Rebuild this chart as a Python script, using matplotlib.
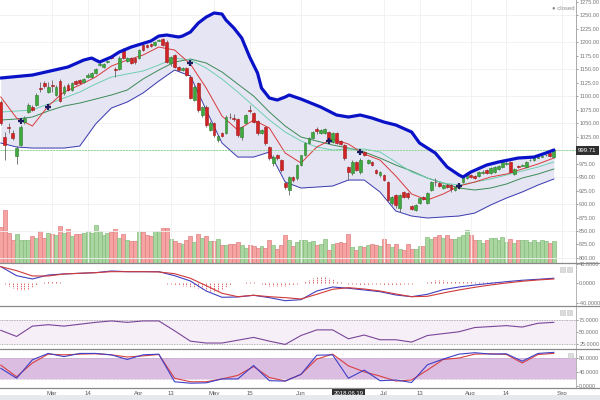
import matplotlib
matplotlib.use('Agg')
import matplotlib.pyplot as plt
import numpy as np
from matplotlib.patches import Rectangle
from matplotlib.lines import Line2D

plt.rcParams['font.family'] = ['Liberation Sans', 'DejaVu Sans']
NARROW = ['Liberation Sans Narrow', 'Liberation Sans', 'DejaVu Sans']

# ---------------- data (daily candles) ----------------
opens = [1089,1024,1043,1032,989,1009,1052,1071,1080,1084,
         1115,1124,1108,1121,1102,1128,1106,1121,1111,1128,
         1130,1126,1135,1135,1143,1158,1154,1163,1174,1150,
         1150,1186,1165,1171,1171,1171,1195,1195,1197,1195,
         1203,1206,1200,1161,1176,1154,1148,1152,1135,1093,
         1124,1065,1080,1037,1050,1019,1032,1032,1062,1060,
         1058,1024,1050,1074,1069,1054,1032,1043,1006,976,
         991,982,939,926,950,948,972,991,1013,1022,
         1039,1032,1032,1033,1015,1032,1016,1009,969,957,
         978,959,996,976,978,963,954,954,941,902,
         917,893,922,920,896,889,902,913,902,926,
         941,939,930,935,935,926,932,941,948,954,
         952,952,958,963,957,959,965,969,975,978,
         956,970,971,969,981,982,986,988,990,995,
         987]
highs = [1093,1034,1050,1037,1008,1046,1063,1087,1084,1106,
         1126,1128,1126,1130,1121,1132,1121,1124,1126,1130,
         1132,1134,1143,1145,1152,1163,1161,1167,1176,1154,
         1174,1189,1173,1173,1173,1187,1197,1197,1199,1202,
         1206,1208,1204,1174,1178,1156,1154,1154,1139,1121,
         1126,1082,1084,1054,1052,1028,1033,1065,1069,1067,
         1059,1045,1067,1083,1071,1056,1039,1045,1008,991,
         993,983,943,952,952,974,991,1015,1024,1035,
         1043,1039,1041,1035,1033,1033,1019,1011,970,982,
         980,985,998,983,980,965,961,956,943,915,
         919,919,924,922,898,900,913,915,922,943,
         948,941,937,937,937,933,937,952,959,956,
         954,961,963,965,969,970,972,980,980,980,
         967,972,974,980,983,989,989,991,993,996,
         1004]
lows = [1046,982,1032,1019,974,1008,1048,1069,1072,1082,
        1108,1115,1106,1108,1100,1089,1102,1110,1110,1121,
        1122,1124,1134,1134,1141,1156,1152,1161,1169,1135,
        1148,1169,1163,1160,1160,1169,1184,1189,1191,1193,
        1202,1193,1161,1156,1152,1146,1146,1137,1095,1091,
        1071,1061,1043,1035,1024,1015,1024,1030,1058,1054,
        1024,1019,1048,1069,1050,1028,1030,1009,982,970,
        982,959,928,917,941,945,970,989,1011,1021,
        1030,1030,1030,1017,1013,1011,1009,982,945,954,
        961,956,989,974,970,956,950,943,906,898,
        892,885,911,909,889,887,900,907,900,924,
        933,932,928,930,922,924,928,939,946,948,
        946,950,956,956,956,957,963,967,972,957,
        954,967,970,967,980,980,985,987,989,987,
        985]
closes = [1050,1009,1041,1022,1004,1043,1059,1084,1074,1102,
          1113,1119,1117,1119,1117,1091,1117,1111,1124,1122,
          1124,1132,1139,1143,1150,1160,1160,1165,1171,1148,
          1171,1171,1171,1161,1163,1186,1186,1191,1193,1200,
          1204,1195,1163,1172,1154,1148,1152,1139,1096,1117,
          1074,1080,1046,1050,1028,1026,1026,1061,1061,1058,
          1028,1043,1065,1072,1052,1032,1037,1013,985,987,
          985,963,932,950,945,972,991,1013,1022,1033,
          1035,1037,1039,1019,1032,1013,1012,985,959,978,
          963,982,991,982,972,958,959,945,907,913,
          898,917,913,913,891,898,911,909,920,941,
          940,933,935,932,928,932,933,950,957,950,
          948,959,959,957,967,969,970,978,976,959,
          965,968,972,978,982,987,987,989,991,989,
          999.71]
volumes = [36,53,30,23,29,23,23,23,27,25,
           32,25,30,29,28,37,30,34,27,29,
           29,30,32,30,38,32,28,30,31,34,
           25,29,23,22,22,32,31,28,27,32,
           32,35,35,24,22,20,19,23,27,21,
           29,25,27,22,22,24,18,18,19,19,
           21,18,15,18,17,15,17,15,23,18,
           14,18,28,23,17,21,
           23,23,21,22,18,19,24,13,19,20,
           21,20,29,16,13,17,16,18,19,18,
           17,24,19,16,19,14,13,19,14,14,
           17,17,26,24,26,28,25,28,24,24,
           26,28,33,28,23,23,20,23,25,25,
           23,26,21,24,20,23,23,23,21,23,
           21,23,22,20,22]
last_price = 999.71

# upper Bollinger band (thick line), read at these sessions
upper_idx = [0, 8, 17, 21, 23, 25, 28, 30, 33, 38, 40, 42, 45, 46, 48, 50, 52, 54, 56, 57,
             59, 61, 63, 65, 66, 68, 70, 72, 73, 76, 81, 85, 88, 91, 94, 97, 100, 104,
             106, 110, 113, 116, 117, 119, 123, 126, 131, 135, 138, 140]
bb_upper = [1133.6, 1139.1, 1154.0, 1166.9, 1170.6, 1163.2, 1172.5, 1181.8, 1191.0, 1202.2,
            1211.4, 1213.3, 1209.6, 1211.4, 1218.8, 1235.5, 1246.6, 1254.1, 1252.2, 1241.1,
            1226.3, 1207.7, 1172.5, 1142.8, 1115.0, 1096.5, 1092.8, 1098.4, 1102.1, 1094.6,
            1079.8, 1065.0, 1061.3, 1065.0, 1059.4, 1052.0, 1046.5, 1033.5, 1013.1, 994.6,
            968.6, 953.8, 950.1, 959.3, 972.3, 977.9, 985.3, 987.1, 994.6, 1000.1]

# other indicator lines, read every 4th session
ind_idx = list(range(0, 141, 4))
bb_lower = [1013.1,1005.7,1003.8,1003.8,1003.8,1007.5,1048.3,1078.0,1089.1,1105.8,
            1128.0,1148.4,1137.3,1074.3,1013.1,987.1,987.1,996.4,940.8,929.7,
            931.5,933.4,944.5,944.5,922.3,887.0,877.8,874.1,876.0,877.8,
            883.3,898.2,911.1,922.3,935.2,946.4]
ma_fast = [1098.4,1059.4,1044.6,1081.7,1107.6,1120.6,1135.4,1155.8,1166.9,1176.2,
           1191.0,1185.5,1159.5,1115.0,1063.1,1037.2,1055.7,1040.9,994.6,976.0,
           1005.7,1020.5,1011.2,992.7,981.6,951.9,918.6,907.4,918.6,933.4,
           940.8,950.1,955.6,964.9,974.2,985.3]
ma_mid = [1070.6,1072.4,1074.3,1085.4,1096.5,1107.6,1122.4,1135.4,1141.0,1146.5,
          1157.7,1170.6,1166.9,1152.1,1131.7,1107.6,1081.7,1055.7,1033.5,1016.8,
          1005.7,1000.1,1002.0,1002.0,996.4,977.9,959.3,948.2,938.9,935.2,
          940.8,946.4,953.8,961.2,968.6,977.9]
ma_slow = [1055.7,1057.6,1061.3,1072.4,1081.7,1087.2,1094.6,1102.1,1111.3,1131.7,
           1148.4,1163.2,1168.8,1161.4,1144.7,1122.4,1100.2,1070.6,1044.6,1024.2,
           1016.8,1009.4,1003.8,996.4,985.3,972.3,961.2,948.2,938.9,929.7,
           926.0,929.7,937.1,948.2,955.6,964.9]
cross_idx = [5, 12, 48, 83, 91, 116]
cross_price = [1053.9, 1079.8, 1161.4, 1016.8, 996.4, 933.4]

macd_line = [34.5,16,9.2,17.4,19.5,20.9,22.2,25.6,24.2,24.2,24.2,16,5.1,-15.4,-28.3,-27.7,
             -24.2,-29.1,-35.3,-33.2,-15.4,-7.2,-9.8,-13.3,-16.8,-23.6,-27.1,-22.2,-12.7,
             -7.2,-3.1,0.4,3.7,6.6,8.6,10.7]
macd_signal = [34.5,26.3,15.4,15.4,19.5,20.9,22.2,24.2,24.2,24.2,23.6,20.1,10.7,-4.5,-20.1,
               -27.1,-24.2,-27.1,-29.1,-31.8,-22.2,-11.9,-8.6,-11.3,-15.4,-21.5,-27.1,-26.3,
               -19.5,-13.3,-7.8,-3.1,1.0,4.5,7.2,9.2]
macd_hist = [0,-2,-6,-10,-13,-14,-13,-11,-8,-4,
             1,3,5,6,5,3,2,1,0.5,0.5,
             0.5,0.5,0.5,0.5,0.5,0.5,0.5,0.5,0.5,0.5,
             0.5,0.5,0.5,0.5,0,0,0,0,0,0,
             0,0,-1,-2,-3,-4,-5,-6,-7,-8,
             -10,-12,-14,-16,-17,-16,-12,-7,-3,0,
             0,2,3,4,3,2,-1,-3,-5,-6,
             -6,-6,-5,-4,-3,-2,2,5,8,11,
             13,14,14,12,9,6,3,1,-1,-2,
             -2,-3,-3,-3,-2,-2,-2,-3,-4,-4,
             -3,-3,-2,-2,-1,0,1,2,4,6,
             7,7,7,6,6,6,5,5,5,5,
             4,4,4,4,3,3,3,3,3,2,
             2,2,2,2,1,1,1,1,1,1,
             1]
rsi = [53,40,62,65,62,66,70,73,70,73,73,52,30,26,26,32,38,30,23,42,54,54,35,43,
       33,33,28,42,46,50,59,61,63,60,68,70]
stoch_k = [50,22,74,92,83,92,92,88,75,88,90,12,8,9,20,20,58,15,14,33,87,88,22,45,
           15,17,10,60,76,90,94,90,91,70,92,95]
stoch_d = [59,26,65,90,88,90,91,88,82,85,89,22,12,12,20,30,55,24,14,33,76,90,57,40,
           28,14,17,45,75,79,90,91,89,65,89,92]

tick_labels = ['Mar', '14', 'Apr', '13', 'May', '15', 'Jun', 'Jul', '13', 'Aug', '14', 'Sep']
tick_idx = [13, 22, 35, 43, 54, 63, 76, 97, 106, 119, 128, 142]
cursor_label = '2018.06.19'
cursor_idx = 88

# ---------------- figure ----------------
W, H = 600, 400
fig = plt.figure(figsize=(6, 4), dpi=100)
fig.patch.set_facecolor('white')

def pos(top, bottom, left=0, right=576):
    return [left / W, 1 - bottom / H, (right - left) / W, (bottom - top) / H]

ax = fig.add_axes(pos(0, 263))
axm = fig.add_axes(pos(263, 306), sharex=ax)
axr = fig.add_axes(pos(306, 349), sharex=ax)
axs = fig.add_axes(pos(349, 388), sharex=ax)
axv = ax.twinx()
axv.set_zorder(ax.get_zorder() - 1)
ax.patch.set_visible(False)

o = np.array(opens, float); h = np.array(highs, float)
l = np.array(lows, float); c = np.array(closes, float)
idx = np.arange(len(c))
up = c >= o

LAB = '#777777'
FS = 4.3
YFS = 4.0

for a in (ax, axm, axr, axs, axv):
    for s in a.spines.values():
        s.set_visible(False)
    a.spines['right'].set_visible(True)
    a.spines['right'].set_color('#aaaaaa')
    a.spines['right'].set_linewidth(0.6)
    a.tick_params(axis='x', bottom=False, labelbottom=False)

ax.set_xlim(-0.2025, 145.62)

# volume
vol_face = np.where(up, '#a9d6a0', '#f6a3a3')
vol_edge = np.where(up, '#86bd7d', '#e07f7f')
axv.bar(idx, volumes, width=1.0, color=vol_face, edgecolor=vol_edge, linewidth=0.5)
axv.set_ylim(0, 263)
axv.set_yticks([])

# grid
for p in np.arange(800, 1276, 50):
    ax.axhline(p, color='#f0f0f0', lw=0.6, zorder=0)
for t in tick_idx:
    ax.axvline(t, color='#f0f0f0', lw=0.6, zorder=0)

# band fill between lower and upper band
fill_x = sorted(set(ind_idx) | set(upper_idx))
ax.fill_between(fill_x, np.interp(fill_x, ind_idx, bb_lower),
                np.interp(fill_x, upper_idx, bb_upper), color='#e5e5f4', lw=0, zorder=1)
ax.plot(ind_idx, bb_lower, color='#3b3bb0', lw=0.7, zorder=2)
ax.plot(ind_idx, ma_slow, color='#3d8a55', lw=0.7, zorder=2)
ax.plot(ind_idx, ma_mid, color='#6fcfb0', lw=0.7, zorder=2)
ax.plot(ind_idx, ma_fast, color='#d93a3a', lw=0.7, zorder=2)
ax.axhline(last_price, color='#8fd48f', lw=0.7, ls=(0, (2, 1)), zorder=2)

# candles
body_lo = np.minimum(o, c)
body_h = np.maximum(np.abs(c - o), 1.2)
face = np.where(up, '#3fa83f', '#d22424')
edge = np.where(up, '#2b7d2b', '#a11818')
ax.vlines(idx, l, h, color='#666666', lw=0.6, zorder=3)
ax.bar(idx, body_h, bottom=body_lo, width=0.7, color=face, edgecolor=edge,
       linewidth=0.4, zorder=4)

ax.plot(upper_idx, bb_upper, color='#0a12c8', lw=2.3, solid_capstyle='round',
        solid_joinstyle='round', zorder=5)
ax.plot(cross_idx, cross_price, ls='none', marker='+', ms=5, mew=1.6,
        color='#1c1c60', zorder=6)

ax.set_ylim(790.7, 1278.2)
price_ticks = np.arange(800, 1276, 25)
ax.set_yticks(price_ticks)
ax.set_yticklabels(['' if v == 1000 else '%.2f' % v for v in price_ticks])
ax.annotate('%.2f' % last_price, xy=(1, last_price), xycoords=('axes fraction', 'data'),
            xytext=(1.6, 0), textcoords='offset points', ha='left', va='center',
            fontsize=FS, color='white', annotation_clip=False, zorder=10, family=NARROW,
            bbox=dict(boxstyle='square,pad=0.3', fc='#2f2f2f', ec='none'))

# MACD
axm.vlines(idx, 0, macd_hist, color='#e06a6a', lw=0.7, linestyles=(0, (1.5, 0.8)))
axm.plot(ind_idx, macd_line, color='#4040c0', lw=0.8)
axm.plot(ind_idx, macd_signal, color='#d03a3a', lw=0.8)
axm.set_ylim(-46.2, 42)
axm.set_yticks([40, 0, -40])
axm.set_yticklabels(['%.4f' % v for v in [40, 0, -40]])

# RSI
axr.axhspan(25, 75, color='#f6eff8', lw=0)
for lv in (25, 75):
    axr.axhline(lv, color='#9a9a9a', lw=0.6, ls=(0, (1, 1)))
axr.plot(ind_idx, rsi, color='#7a4598', lw=0.8)
axr.set_ylim(13.3, 104.8)
axr.set_yticks([75, 50, 25])
axr.set_yticklabels(['%.4f' % v for v in [75, 50, 25]])

# Stochastic
axs.axhspan(20, 80, color='#dbbde2', lw=0)
for lv in (20, 80):
    axs.axhline(lv, color='#b9a0bf', lw=0.5, ls=(0, (1, 1)))
axs.plot(ind_idx, stoch_d, color='#d84040', lw=0.8)
axs.plot(ind_idx, stoch_k, color='#4040c8', lw=0.8)
axs.set_ylim(-5.6, 104.5)
axs.set_yticks([80, 40, 0])
axs.set_yticklabels(['%.4f' % v for v in [80, 40, 0]])

for a in (ax, axm, axr, axs):
    a.yaxis.tick_right()
    a.tick_params(axis='y', right=True, left=False, labelright=True, labelleft=False,
                  labelsize=YFS, colors=LAB, length=1.5, width=0.5, pad=0.8)
    for t in a.get_yticklabels():
        t.set_family(NARROW)

axs.set_xticks(tick_idx)
axs.set_xticklabels(tick_labels)
axs.tick_params(axis='x', bottom=False, labelbottom=True, labelsize=FS,
                colors='#555555', length=0, pad=2.2)
axs.annotate(cursor_label, xy=(cursor_idx, 0), xycoords=('data', 'axes fraction'),
             xytext=(0, -2.2), textcoords='offset points', ha='center', va='top',
             fontsize=FS, color='white', annotation_clip=False,
             bbox=dict(boxstyle='square,pad=0.3', fc='#2f2f2f', ec='none'))

# panel separators and decorations
for yy in (263, 306, 349, 388):
    fig.add_artist(Line2D([0, 1], [1 - yy / H] * 2, color='#8a8a8a', lw=0.9))
fig.add_artist(Rectangle((0, 0), 1, 5 / H, transform=fig.transFigure,
                         fc='#e6e9ee', ec='none'))
fig.text(575 / W, 1 - 8 / H, '\u25cf closed', ha='right', va='center',
         fontsize=FS, color='#8a8a8a')
for (x0, y0) in [(560, 267), (567, 267), (560, 310), (567, 310), (568, 353)]:
    fig.add_artist(Rectangle((x0 / W, 1 - (y0 + 5) / H), 5 / W, 5 / H,
                             transform=fig.transFigure, fc='#dcdcdc', ec='#c4c4c4', lw=0.4))

fig.savefig('out.png', dpi=100)
